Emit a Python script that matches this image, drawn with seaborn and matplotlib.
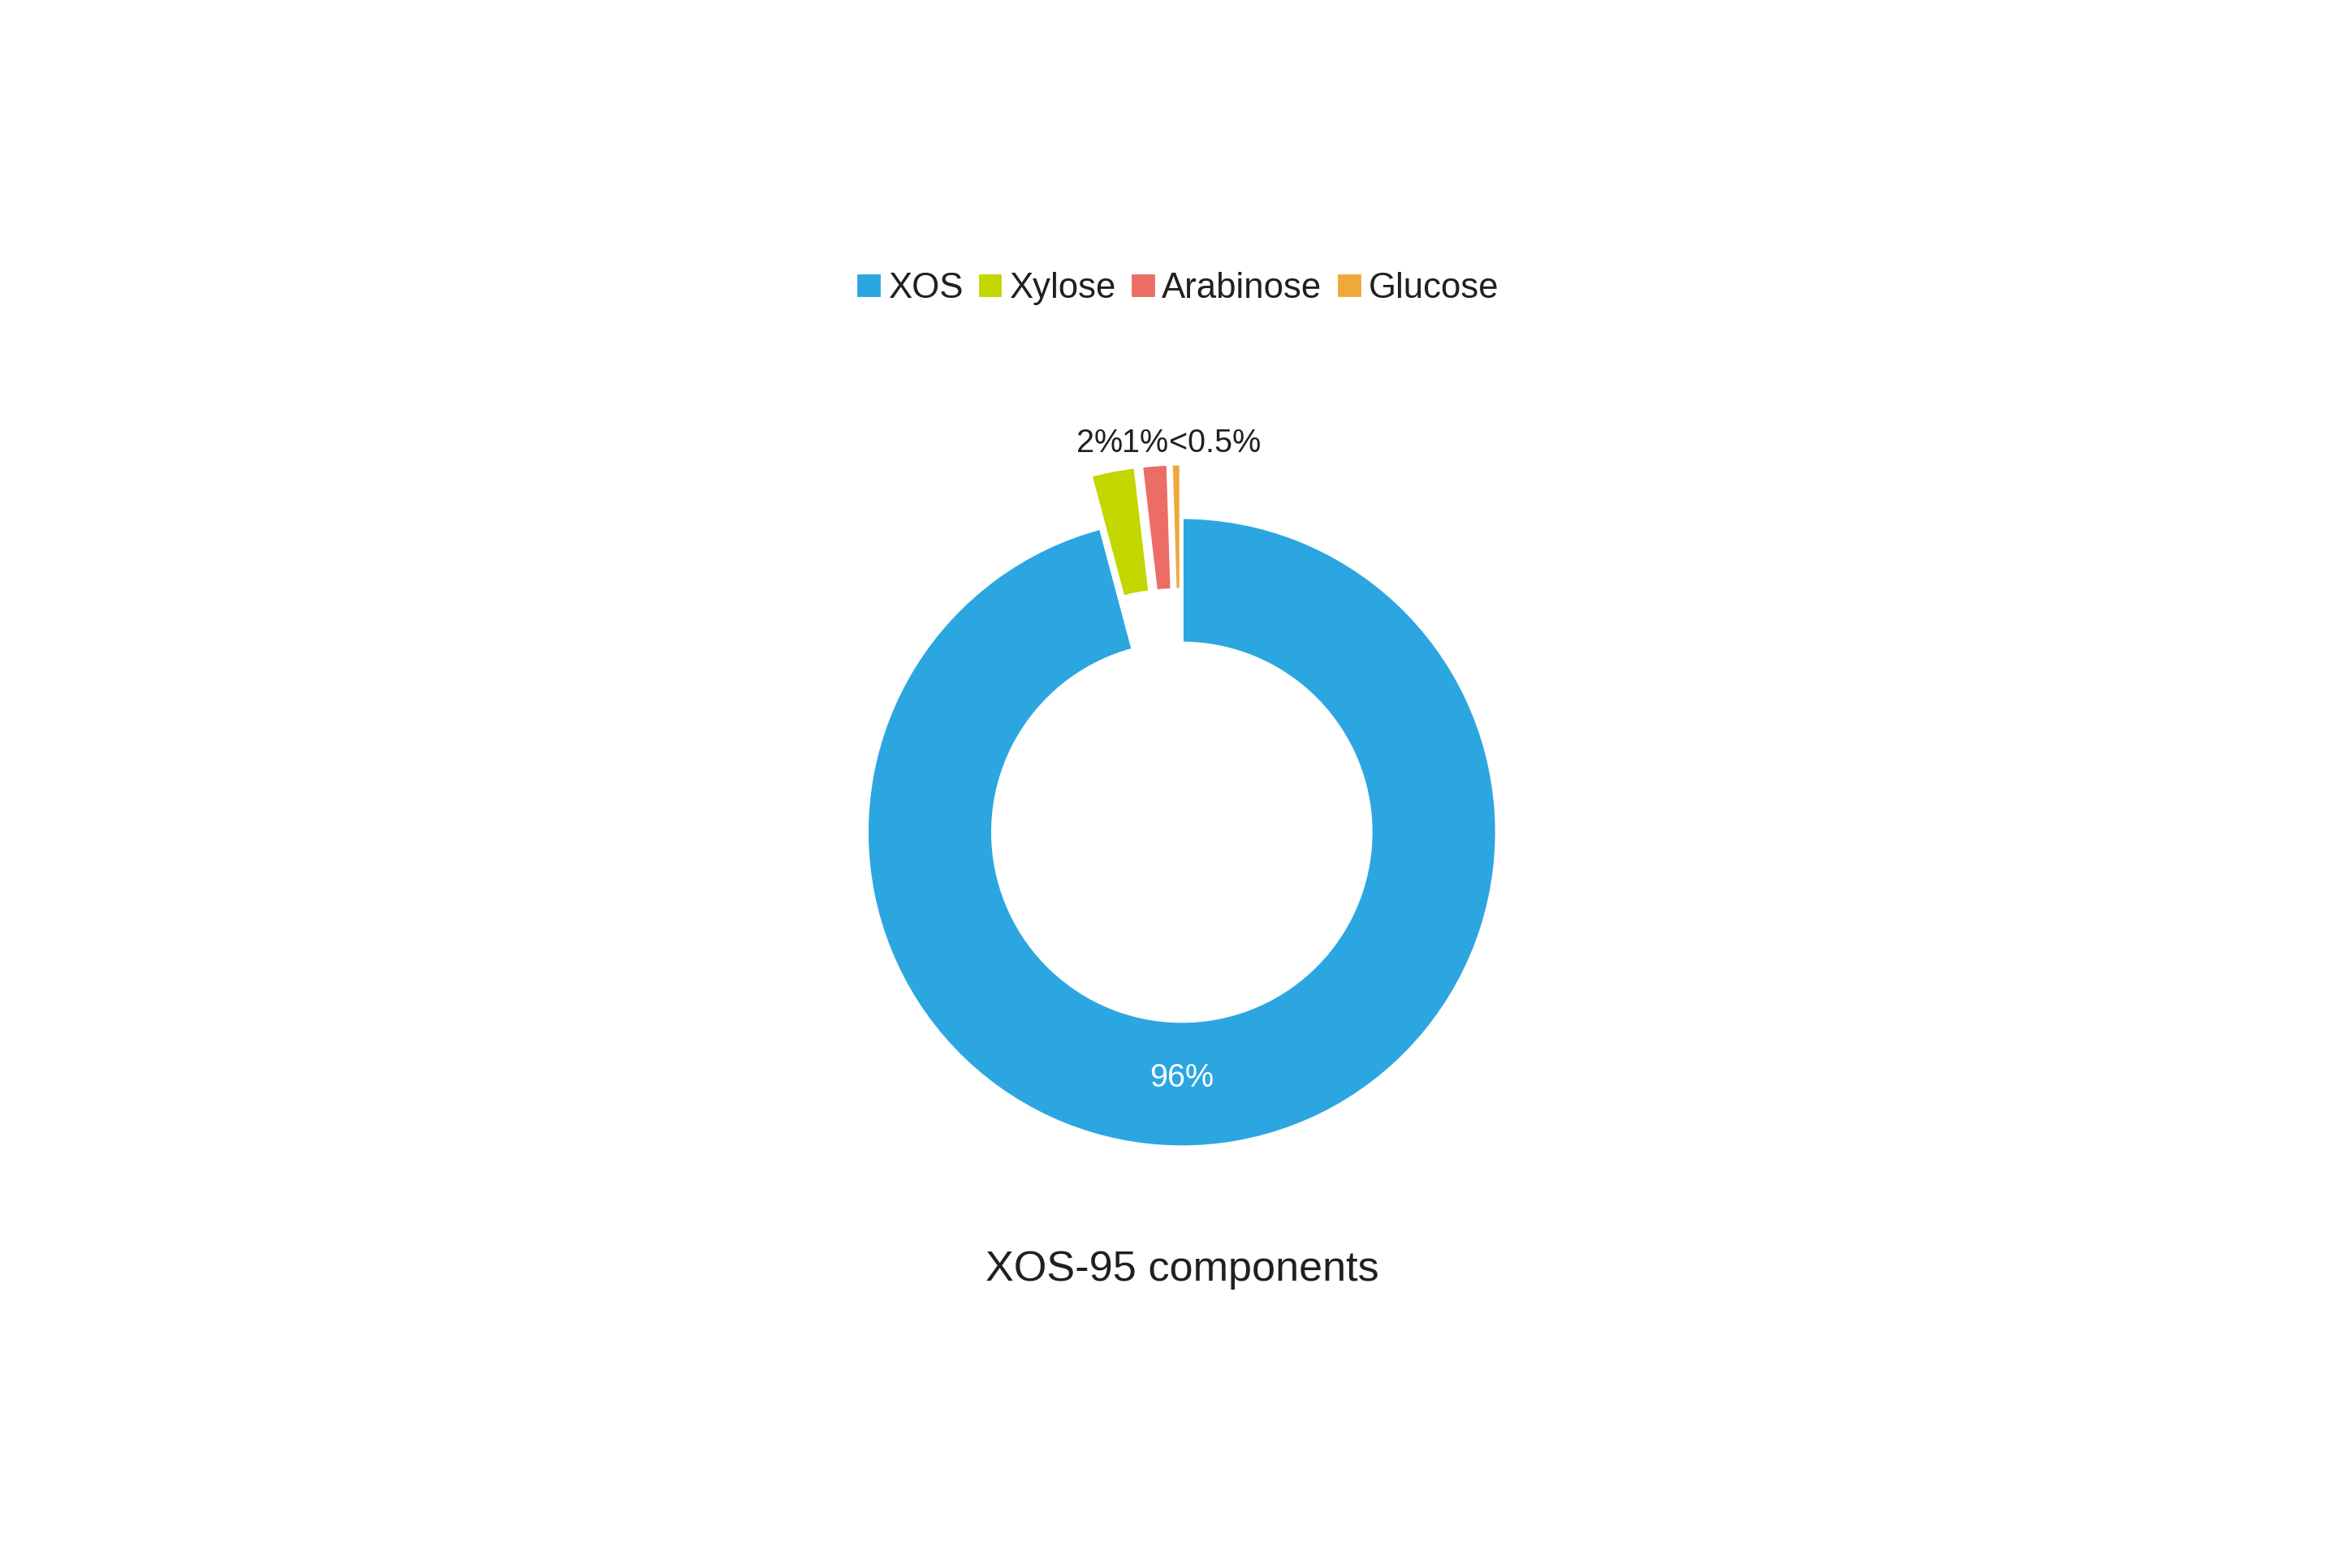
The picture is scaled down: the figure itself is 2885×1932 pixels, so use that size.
import matplotlib
matplotlib.use('Agg')
import numpy as np
import matplotlib.pyplot as plt
import seaborn as sns

# Data
components = ['XOS', 'Xylose', 'Arabinose', 'Glucose']
shares = [95.85, 2.3, 1.35, 0.5]
share_labels = ['96%', '2%', '1%', '<0.5%']
explode = [0, 0.17, 0.17, 0.17]
colors = sns.color_palette(['#2CA6E0', '#C3D600', '#EC6D65', '#F0A83C'])

sns.set_theme(style='white')
plt.rcParams['font.family'] = ['Liberation Sans', 'DejaVu Sans']
text_color = '#231F20'

cx_fig = 0.5045
fig = plt.figure(figsize=(9.62, 6.44), dpi=300)
ax = fig.add_axes([cx_fig - 0.2017, 0.168, 0.4033, 0.6025])

wedges, _ = ax.pie(shares, colors=colors, startangle=90, counterclock=False,
                   explode=explode,
                   wedgeprops=dict(width=0.4, edgecolor='white', linewidth=1.0))
ax.set_xlim(-1.5, 1.5)
ax.set_ylim(-1.5, 1.5)
ax.set_aspect('equal')
ax.axis('off')

# main label inside the ring
ax.text(0, -0.78, share_labels[0], color='white', fontsize=9.5,
        ha='center', va='center')

# small slices: labels in a row above the exploded wedges
aligns = ['right', 'center', 'left']
nudges = [0.07, -0.015, -0.02]
for w, lab, ha, dx in zip(wedges[1:], share_labels[1:], aligns, nudges):
    mid = np.deg2rad((w.theta1 + w.theta2) / 2)
    cx, cy = w.center
    x = cx + 1.2 * np.cos(mid) + dx
    ax.text(x, 1.235, lab, color=text_color, fontsize=9.5,
            ha=ha, va='center')

fig.legend(wedges, components, loc='center', bbox_to_anchor=(cx_fig - 0.002, 0.816),
           ncol=4, frameon=False, handlelength=0.75, handleheight=0.75,
           handletextpad=0.15, columnspacing=0.4, fontsize=10.5,
           labelcolor=text_color)

fig.text(cx_fig, 0.19, 'XOS-95 components', color=text_color, fontsize=12.5,
         ha='center', va='center')

fig.savefig('out.png', dpi=300, facecolor='white')
